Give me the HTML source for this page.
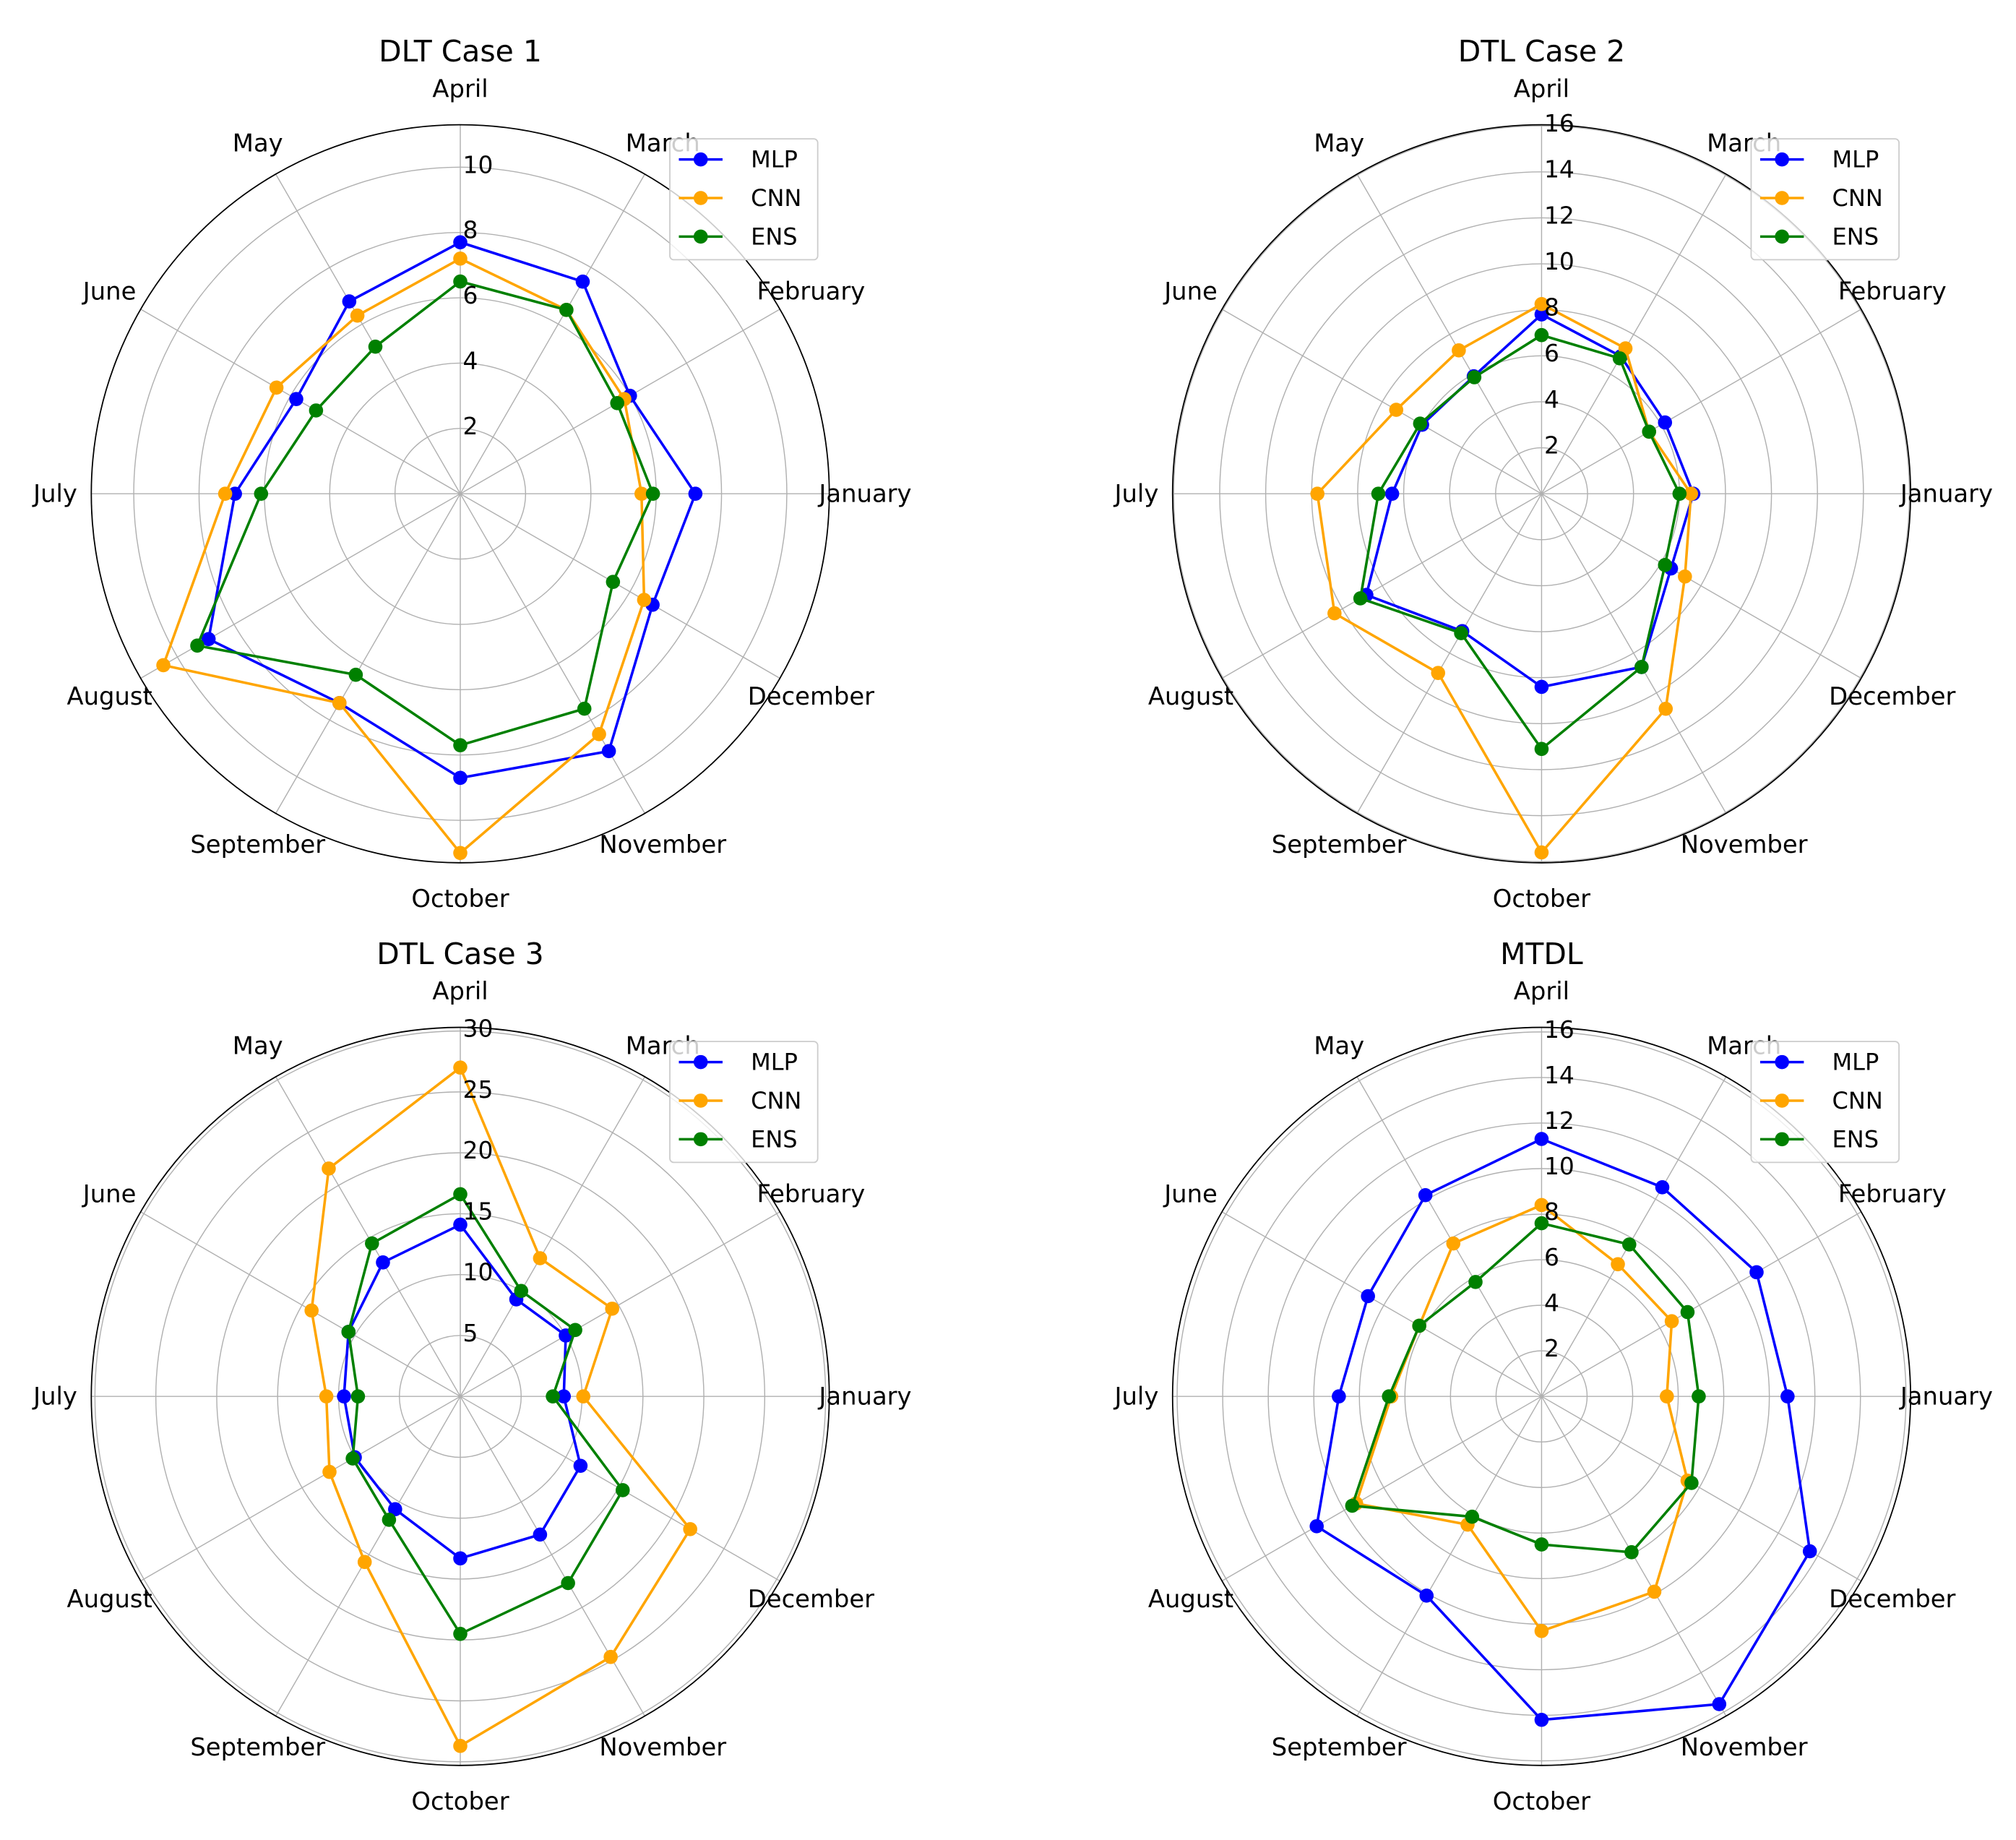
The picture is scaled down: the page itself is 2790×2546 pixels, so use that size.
<!DOCTYPE html>
<html><head><meta charset="utf-8">
<style>
html,body{margin:0;padding:0;background:#fff;}
svg{display:block;font-family:"DejaVu Sans","Liberation Sans",sans-serif;}
</style></head>
<body>
<svg id="chart" width="2790" height="2546" viewBox="0 0 1568 1431" preserveAspectRatio="none" xmlns="http://www.w3.org/2000/svg"></svg>
<script>
const months = ["January","February","March","April","May","June","July","August","September","October","November","December"];
const seriesNames = ["MLP","CNN","ENS"];
const seriesColors = ["#0000ff","#ffa500","#008000"];

const titles = ["DLT Case 1","DTL Case 2","DTL Case 3","MTDL"];
const rMaxes = [11.3, 16.05, 30.3, 16.2];
const tickSets = [[2,4,6,8,10],[2,4,6,8,10,12,14,16],[5,10,15,20,25,30],[2,4,6,8,10,12,14,16]];

const case1MLP = [7.2,6.0,7.5,7.7,6.8,5.8,6.9,8.9,7.4,8.7,9.1,6.8];
const case1CNN = [5.55,5.8,6.5,7.2,6.3,6.5,7.2,10.5,7.4,11.0,8.5,6.5];
const case1ENS = [5.9,5.55,6.5,6.5,5.2,5.1,6.1,9.3,6.4,7.7,7.6,5.4];

const case2MLP = [6.6,6.2,6.9,7.8,5.9,6.0,6.5,8.8,6.9,8.4,8.7,6.5];
const case2CNN = [6.5,5.4,7.3,8.25,7.2,7.3,9.75,10.4,9.0,15.6,10.8,7.2];
const case2ENS = [6.0,5.4,6.8,6.9,5.85,6.1,7.1,9.1,7.0,11.1,8.7,6.2];

const case3MLP = [8.5,10.0,9.2,14.1,12.7,10.6,9.55,10.0,10.7,13.3,13.1,11.4];
const case3CNN = [10.1,14.4,13.1,27.0,21.6,14.1,11.0,12.4,15.7,28.7,24.7,21.8];
const case3ENS = [7.6,10.9,10.0,16.6,14.5,10.6,8.4,10.2,11.7,19.5,17.7,15.4];

const mtdlMLP = [10.8,10.9,10.6,11.3,10.2,8.8,8.9,11.4,10.1,14.2,15.6,13.6];
const mtdlCNN = [5.5,6.6,6.7,8.4,7.75,6.2,6.6,9.4,6.5,10.3,9.9,7.4];
const mtdlENS = [6.9,7.4,7.7,7.6,5.8,6.2,6.7,9.6,6.1,6.5,7.9,7.6];

const panelData = [[case1MLP,case1CNN,case1ENS],[case2MLP,case2CNN,case2ENS],[case3MLP,case3CNN,case3ENS],[mtdlMLP,mtdlCNN,mtdlENS]];
const centers = [[358,384],[1199,384],[358,1086],[1199,1086]];
const R = 287;

const NS = "http://www.w3.org/2000/svg";
const svg = document.getElementById("chart");
function mk(tag, attrs, parent){
  const e = document.createElementNS(NS, tag);
  for (const k in attrs) e.setAttribute(k, attrs[k]);
  parent.appendChild(e);
  return e;
}
function slug(s){return s.toLowerCase().replace(/[^a-z0-9]+/g,"-");}

for (let p = 0; p < 4; p++) {
  const [cx, cy] = centers[p];
  const rmax = rMaxes[p];
  const rScale = v => v / rmax * R;
  const ang = i => i * Math.PI / 6;
  const px = (i, v) => cx + rScale(v) * Math.cos(ang(i));
  const py = (i, v) => cy - rScale(v) * Math.sin(ang(i));

  const g = mk("g", {}, svg);
  
  

  tickSets[p].forEach(t => {
    const c = mk("circle", {cx:cx, cy:cy, r:rScale(t), fill:"none", stroke:"#b0b0b0", "stroke-width":0.8}, g);
    
    
  });
  for (let i = 0; i < 12; i++) {
    const l = mk("line", {x1:cx, y1:cy, x2:cx + R*Math.cos(ang(i)), y2:cy - R*Math.sin(ang(i)), stroke:"#b0b0b0", "stroke-width":0.8}, g);
    
    
  }
  const sp = mk("circle", {cx:cx, cy:cy, r:R, fill:"none", stroke:"#000", "stroke-width":1}, g);
  
  

  for (let i = 0; i < 12; i++) {
    const t = mk("text", {x:cx + 315*Math.cos(ang(i)), y:cy - 315*Math.sin(ang(i)), "text-anchor":"middle", "dominant-baseline":"central", "font-size":19, fill:"#000"}, g);
    t.textContent = months[i];
    
    
  }

  panelData[p].forEach((vals, s) => {
    const sg = mk("g", {}, g);
    
    
    let d = "";
    for (let i = 0; i <= 12; i++) {
      const k = i % 12;
      d += (i === 0 ? "M" : "L") + px(k, vals[k]).toFixed(2) + "," + py(k, vals[k]).toFixed(2);
    }
    const path = mk("path", {d:d, fill:"none", stroke:seriesColors[s], "stroke-width":2, "stroke-linejoin":"round"}, sg);
    
    
    for (let i = 0; i < 12; i++) {
      const m = mk("circle", {cx:px(i, vals[i]), cy:py(i, vals[i]), r:5.5, fill:seriesColors[s]}, sg);
      
      
    }
  });

  tickSets[p].forEach(t => {
    const tx = mk("text", {x:cx + 2, y:cy - rScale(t) - 2, "text-anchor":"start", "dominant-baseline":"central", "font-size":18.5, fill:"#000"}, g);
    tx.textContent = String(t);
    
    
  });

  const ti = mk("text", {x:cx, y:cy - 344, "text-anchor":"middle", "dominant-baseline":"central", "font-size":23, fill:"#000"}, g);
  ti.textContent = titles[p];
  
  

  const lg = mk("g", {}, g);
  
  
  const lx = cx + 163, ly = cy - 276;
  const box = mk("rect", {x:lx, y:ly, width:115, height:94, rx:3, fill:"#fff", "fill-opacity":0.8, stroke:"#cccccc", "stroke-width":1}, lg);
  
  
  seriesNames.forEach((n, s) => {
    const yy = ly + 16 + s * 30;
    const e = mk("g", {}, lg);
    
    
    mk("line", {x1:lx + 7, y1:yy, x2:lx + 41, y2:yy, stroke:seriesColors[s], "stroke-width":2}, e);
    mk("circle", {cx:lx + 24, cy:yy, r:5.5, fill:seriesColors[s]}, e);
    const tt = mk("text", {x:lx + 63, y:yy, "dominant-baseline":"central", "font-size":18, fill:"#000"}, e);
    tt.textContent = n;
  });
}
</script>
</body></html>
